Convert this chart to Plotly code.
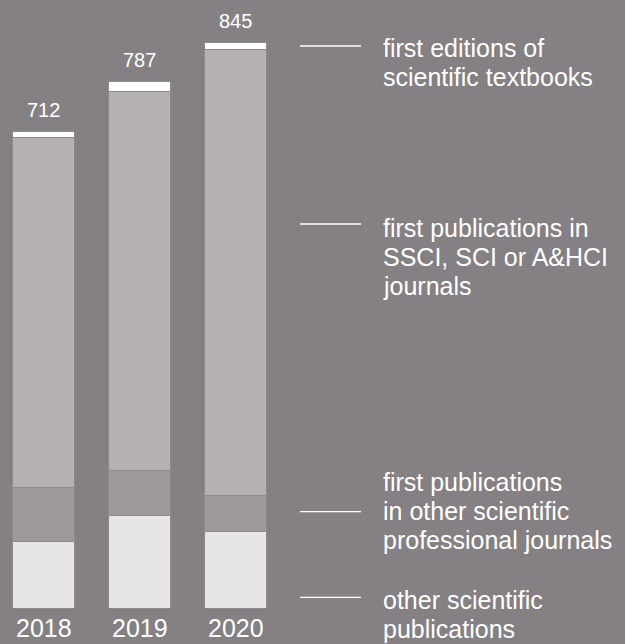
import plotly.graph_objects as go

years = ["2018", "2019", "2020"]
other_pubs = [100, 139, 115]
other_journals = [81, 67, 54]
ssci_sci = [523, 567, 666]
textbooks = [8, 14, 10]
totals = [712, 787, 845]

series_names = [
    ["other scientific", "publications"],
    ["first publications", "in other scientific", "professional journals"],
    ["first publications in", "SSCI, SCI or A&HCI", "journals"],
    ["first editions of", "scientific textbooks"],
]
series_values = [other_pubs, other_journals, ssci_sci, textbooks]
series_colors = ["#e7e5e8", "#9d999a", "#b5b1b2", "#ffffff"]

BG = "#858083"
FONT = "Liberation Sans, Arial, Helvetica, sans-serif"
xs = list(range(len(years)))

# pixel -> data conversion helper for the y axis (plot spans full height)
Y0_PX, PX_PER_UNIT = 608.3, 0.669
def ypx(px):
    return (Y0_PX - px) / PX_PER_UNIT

fig = go.Figure()
for name, vals, col in zip(series_names, series_values, series_colors):
    fig.add_trace(go.Bar(
        x=xs, y=vals, name=" ".join(name), width=0.646,
        marker=dict(color=col, line=dict(color="#8e898b", width=1)),
        hoverinfo="y",
    ))

annotations = []
for x, yr, tot in zip(xs, years, totals):
    annotations.append(dict(x=x, y=ypx(628.3), xref="x", yref="y", text=yr, showarrow=False,
                            font=dict(family=FONT, size=25, color="white"),
                            xanchor="center", yanchor="middle"))
    annotations.append(dict(x=x, y=tot, xref="x", yref="y", text=str(tot), showarrow=False,
                            font=dict(family=FONT, size=20, color="white"),
                            xanchor="center", yanchor="middle", yshift=22))

# legend-style labels on the right: line pixel y, first text line pixel center
label_pos = [(597.3, 599.5), (511.7, 481.5), (224, 228), (46, 47.7)]
LINE_STEP = 29
shapes = []
for lines, (ly, ty) in zip(series_names, label_pos):
    shapes.append(dict(type="line", xref="paper", yref="y", x0=300/625, x1=361/625,
                       y0=ypx(ly), y1=ypx(ly), line=dict(color="white", width=1.3)))
    for i, t in enumerate(lines):
        annotations.append(dict(x=381/625, y=ypx(ty + i * LINE_STEP), xref="paper", yref="y",
                                text=t, showarrow=False,
                                font=dict(family=FONT, size=25, color="white"),
                                xanchor="left", yanchor="middle", align="left"))

fig.update_layout(
    barmode="stack",
    width=625, height=644,
    margin=dict(l=0, r=0, t=0, b=0),
    paper_bgcolor=BG, plot_bgcolor=BG,
    showlegend=False,
    xaxis=dict(range=[-0.455, 6.052], visible=False, fixedrange=True),
    yaxis=dict(range=[ypx(644), ypx(0)], visible=False, fixedrange=True),
    annotations=annotations,
    shapes=shapes,
)

fig.write_html("out.html")
